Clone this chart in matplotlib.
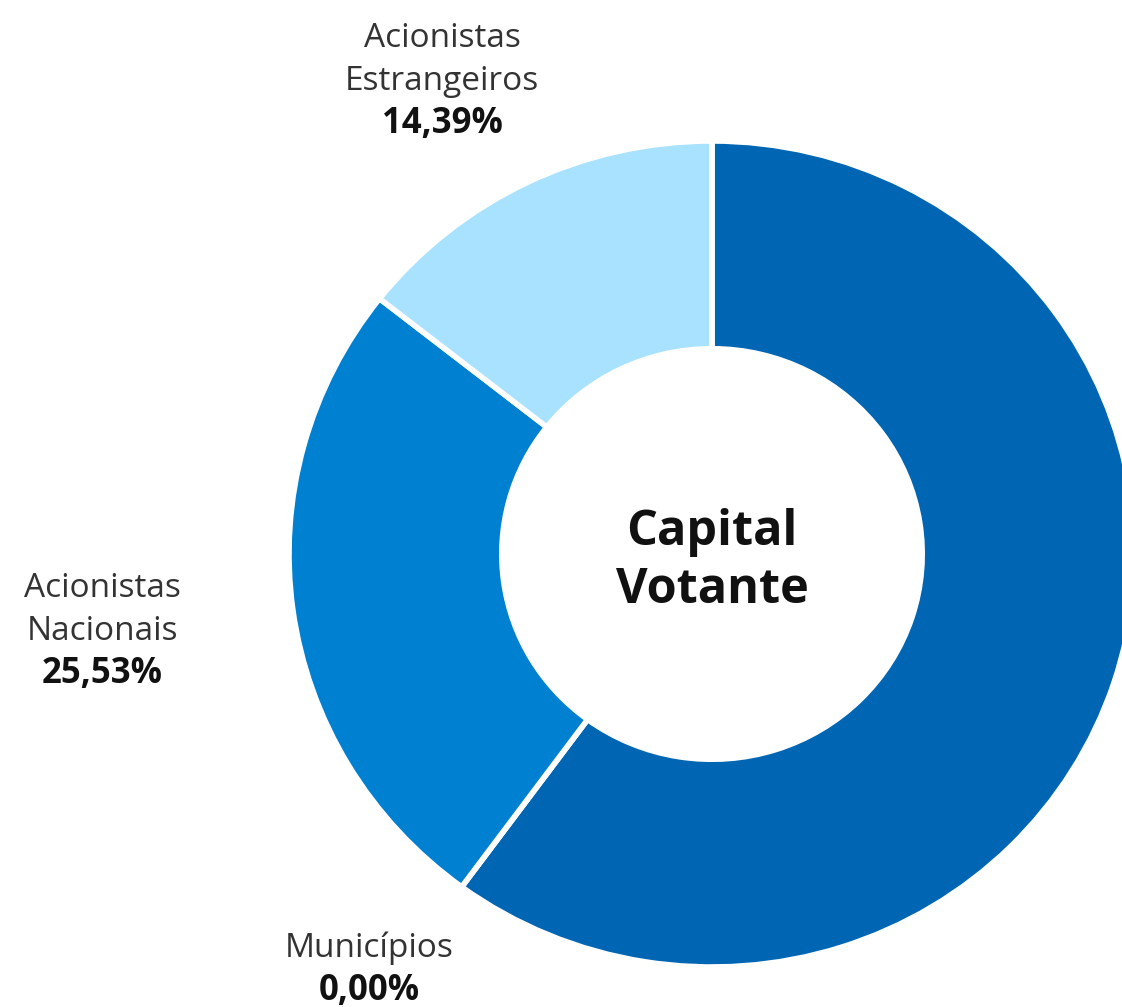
import matplotlib
matplotlib.use('Agg')
import matplotlib.pyplot as plt

# Voting capital breakdown (clockwise from 12 o'clock)
shares = [60.08, 0.00, 25.53, 14.39]
colors = ['#0066B4', '#0000FF', '#0080D0', '#A8E2FE']

lbl_names = ['Acionistas\nEstrangeiros', 'Acionistas\nNacionais', 'Municípios']
lbl_values = ['14,39%', '25,53%', '0,00%']

FONT = 'Open Sans'
W, H = 1122, 1007

fig = plt.figure(figsize=(W / 100, H / 100), dpi=100)
ax = fig.add_axes([0, 0, 1, 1])

ax.pie(shares, colors=colors, startangle=90, counterclock=False,
       wedgeprops=dict(width=0.503, edgecolor='white', linewidth=4))

# the source image is a little wider than tall
rx, ry = 423.0, 413.0
cx, cy = 712.0, 554.0
ax.set_aspect('auto')
ax.set_xlim(-cx / rx, (W - cx) / rx)
ax.set_ylim(-(H - cy) / ry, cy / ry)
ax.axis('off')


def px(x, y):
    return x / W, 1 - y / H


# label blocks: (centre x, baseline of first line) in pixels
spots = [(442, 47), (102, 597), (369, 957)]
step = 43
for (x, y), name, val in zip(spots, lbl_names, lbl_values):
    n = name.count('\n') + 1
    for i, line in enumerate(name.split('\n')):
        fig.text(*px(x, y + i * step), line, ha='center', va='baseline',
                 fontsize=24, color='#333333', family=FONT)
    fig.text(*px(x, y + n * step), val, ha='center', va='baseline',
             fontsize=25, fontweight='bold', color='#111111', family=FONT)

fig.text(*px(712, 545), 'Capital', ha='center', va='baseline',
         fontsize=35, fontweight='bold', color='#111111', family=FONT)
fig.text(*px(712, 603), 'Votante', ha='center', va='baseline',
         fontsize=35, fontweight='bold', color='#111111', family=FONT)

fig.savefig('out.png', dpi=100, facecolor='white')
